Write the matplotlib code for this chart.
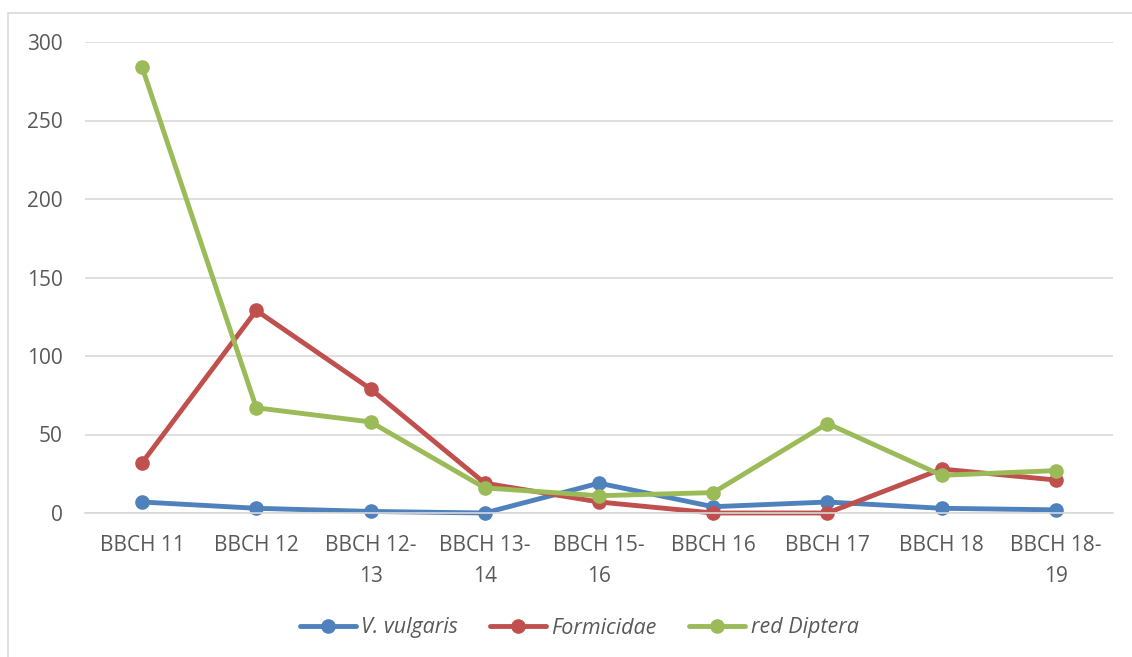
"""Insect counts per BBCH growth stage, line chart with markers."""

import matplotlib.pyplot as plt
from matplotlib.patches import Rectangle

STAGES = [
    "BBCH 11", "BBCH 12", "BBCH 12-\n13", "BBCH 13-\n14", "BBCH 15-\n16",
    "BBCH 16", "BBCH 17", "BBCH 18", "BBCH 18-\n19",
]
V_VULGARIS = [7, 3, 1, 0, 19, 4, 7, 3, 2]
FORMICIDAE = [32, 129, 79, 19, 7, 0, 0, 28, 21]
RED_DIPTERA = [284, 67, 58, 16, 11, 13, 57, 24, 27]

SERIES = [
    ("V. vulgaris", V_VULGARIS, "#4F81BD"),
    ("Formicidae", FORMICIDAE, "#C0504D"),
    ("red Diptera", RED_DIPTERA, "#9BBB59"),
]

TEXT_COLOR = "#595959"
GRID_COLOR = "#D9D9D9"

plt.rcParams["font.family"] = ["Open Sans", "DejaVu Sans"]

fig = plt.figure(figsize=(11.32, 6.57), dpi=100)
ax = fig.add_axes([85 / 1132, 1 - 513 / 657, 1028 / 1132, 471 / 657])

x = list(range(len(STAGES)))
for label, values, color in SERIES:
    ax.plot(x, values, color=color, linewidth=3.5, marker="o",
            markersize=9.5, label=label, solid_capstyle="round", clip_on=False)

ax.set_xlim(-0.5, len(STAGES) - 0.5)
ax.set_ylim(0, 300)
ax.set_yticks(range(0, 301, 50))
ax.set_xticks(x)
ax.set_xticklabels(STAGES, linespacing=1.6)

ax.grid(axis="y", color=GRID_COLOR, linewidth=1.2)
ax.set_axisbelow(True)
for side in ("top", "right", "left"):
    ax.spines[side].set_visible(False)
ax.spines["bottom"].set_color(GRID_COLOR)
ax.spines["bottom"].set_linewidth(1.2)
ax.tick_params(axis="both", length=0, labelsize=15, colors=TEXT_COLOR)
ax.tick_params(axis="y", pad=16)
ax.tick_params(axis="x", pad=16)

legend = fig.legend(
    loc="center", bbox_to_anchor=(579 / 1132, 1 - 628 / 657), ncol=3,
    frameon=False, handlelength=2.6, handletextpad=0.25, columnspacing=1.5,
    prop={"size": 15.5, "style": "italic"},
)
for text in legend.get_texts():
    text.set_color(TEXT_COLOR)

# chart border
fig.patches.append(Rectangle((8 / 1132, -0.1), 1.2, 1 - 13 / 657 + 0.1,
                             transform=fig.transFigure, fill=False,
                             edgecolor=GRID_COLOR, linewidth=1.2))

fig.savefig("out.png", dpi=100)
